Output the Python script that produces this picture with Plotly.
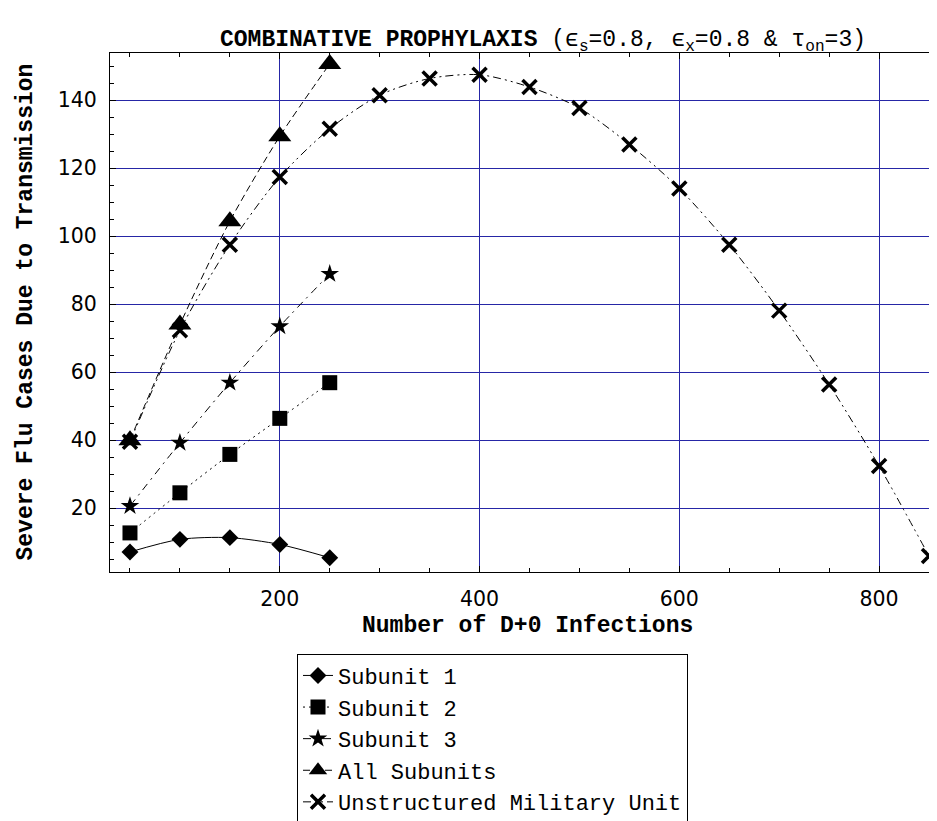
import plotly.graph_objects as go

# ---- data ----
x_sub = [50, 100, 150, 200, 250]
subunit1 = [7.1, 10.8, 11.3, 9.3, 5.4]
subunit2 = [12.7, 24.5, 35.8, 46.4, 56.9]
subunit3 = [20.6, 39.2, 56.9, 73.5, 88.9]
all_subunits = [40.0, 74.0, 104.4, 129.4, 150.7]

x_unstr = [50, 100, 150, 200, 250, 300, 350, 400, 450, 500, 550, 600, 650, 700, 750, 800, 850]
unstructured = [39.5, 72.3, 97.5, 117.4, 131.6, 141.5, 146.4, 147.5, 143.9, 137.7,
                127.0, 114.0, 97.5, 78.1, 56.4, 32.4, 5.9]

names = ["Subunit 1", "Subunit 2", "Subunit 3", "All Subunits", "Unstructured Military Unit"]

MONO = "Liberation Mono, Courier New, monospace"
SANS = "DejaVu Sans, sans-serif"

fig = go.Figure()

def add(x, y, name, symbol, size, dash, open_x=False):
    marker = dict(symbol=symbol, size=size, color="black")
    if open_x:
        marker["line"] = dict(color="black", width=3.5)
    fig.add_trace(go.Scatter(
        x=x, y=y, name=name, mode="lines+markers",
        line=dict(color="black", width=1, dash=dash, shape="spline", smoothing=0.8),
        marker=marker, cliponaxis=False,
    ))

add(x_sub, subunit1, names[0], "diamond", 13, "solid")
add(x_sub, subunit2, names[1], "square", 15, "2px,4px")
add(x_sub, subunit3, names[2], "star", 14, "8px,5px,2px,5px")
add(x_sub, all_subunits, names[3], "triangle-up", 20, "7px,4px")
add(x_unstr, unstructured, names[4], "x-thin-open", 14,
    "8px,4px,2px,4px,2px,4px", open_x=True)

grid_col = "#2626a6"

fig.update_layout(
    width=937, height=821,
    paper_bgcolor="white", plot_bgcolor="white",
    margin=dict(l=102, r=0, t=45, b=257, autoexpand=False),
    title=dict(
        text="<b>COMBINATIVE PROPHYLAXIS</b> (ϵ<sub>s</sub>=0.8, ϵ<sub>x</sub>=0.8 &amp; τ<sub>on</sub>=3)",
        font=dict(family=MONO, size=23, color="black"),
        xref="container", yref="container", x=0.571, y=1 - 30 / 821,
        xanchor="center", yanchor="middle",
    ),
    xaxis=dict(
        range=[30, 866], tick0=0, dtick=200,
        showgrid=True, gridcolor=grid_col, gridwidth=1, zeroline=False,
        showline=True, linecolor="black", linewidth=1, mirror="ticks",
        ticks="inside", ticklen=6, tickcolor="black",
        tickfont=dict(family=SANS, size=20.5, color="black"),
        ticklabelstandoff=8,
        minor=dict(dtick=50, ticks="inside", ticklen=4, tickcolor="black", showgrid=False),
    ),
    yaxis=dict(
        range=[1.2, 153.9], tick0=0, dtick=20,
        showgrid=True, gridcolor=grid_col, gridwidth=1, zeroline=False,
        showline=True, linecolor="black", linewidth=1, mirror="ticks",
        ticks="inside", ticklen=6, tickcolor="black",
        tickfont=dict(family=SANS, size=20.5, color="black"),
        ticklabelstandoff=8,
        minor=dict(dtick=5, ticks="inside", ticklen=4, tickcolor="black", showgrid=False),
    ),
    legend=dict(
        x=(289 - 102) / 835, y=(564.3 - 646) / 519.3,
        xanchor="left", yanchor="top",
        bordercolor="black", borderwidth=1, bgcolor="white",
        font=dict(family=MONO, size=22, color="black"),
        itemwidth=30, tracegroupgap=0,
    ),
    showlegend=True,
    annotations=[
        dict(text="<b>Number of D+0 Infections</b>", xref="paper", yref="paper",
             x=0.5, y=0, xanchor="center", yanchor="middle", yshift=-54, showarrow=False,
             font=dict(family=MONO, size=23, color="black")),
        dict(text="<b>Severe Flu Cases Due to Transmission</b>", xref="paper", yref="paper",
             x=0, y=0.5, xanchor="center", yanchor="middle", xshift=-85, showarrow=False,
             textangle=-90, font=dict(family=MONO, size=23, color="black")),
    ],
)

fig.write_html("out.html")
